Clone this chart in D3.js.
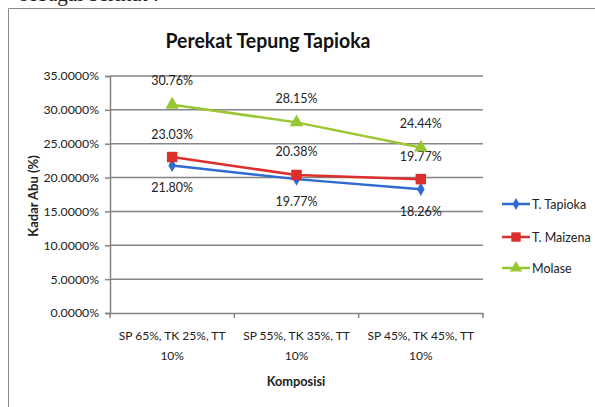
<!DOCTYPE html>
<html><head><meta charset="utf-8">
<script src="https://cdn.jsdelivr.net/npm/d3@7"></script>
<style>body{margin:0;background:#fff;}svg{display:block;}</style>
</head><body>
<script>
const categories = [["SP 65%, TK 25%, TT","10%"],["SP 55%, TK 35%, TT","10%"],["SP 45%, TK 45%, TT","10%"]];
const seriesNames = ["T. Tapioka","T. Maizena","Molase"];
const tapioka = [21.80, 19.77, 18.26];
const maizena = [23.03, 20.38, 19.77];
const molase = [30.76, 28.15, 24.44];
const yTicks = [0,5,10,15,20,25,30,35];
const title = "Perekat Tepung Tapioka";
const yTitle = "Kadar Abu (%)";
const xTitle = "Komposisi";

const W=595,H=407;
const font="Lato, 'Open Sans', sans-serif";
const svg=d3.select("body").append("svg").attr("width",W).attr("height",H);

// document fragment + frame
svg.append("text").attr("x",20).attr("y",1).attr("font-family","'Liberation Serif',serif").attr("font-size",21).attr("fill","#222").text("sebagai berikut :");
svg.append("path").attr("d","M8.5,408 V8.5 H596").attr("fill","none").attr("stroke","#8a8a8a").attr("stroke-width",1);

const x=d3.scaleBand().domain(d3.range(categories.length)).range([110,483]);
const y=d3.scaleLinear().domain([0,35]).range([313,76]);

// gridlines
svg.append("g").selectAll("line").data(yTicks.filter(d=>d>0)).join("line")
 .attr("x1",110).attr("x2",483).attr("y1",d=>y(d)).attr("y2",d=>y(d))
 .attr("stroke","#858585").attr("stroke-width",1.5);

const yAxis=svg.append("g").attr("transform","translate(110,0)")
 .call(d3.axisLeft(y).tickValues(yTicks).tickSize(5).tickPadding(6).tickFormat(d=>d.toFixed(4)+"%"));
const xAxis=svg.append("g").attr("transform","translate(0,313)")
 .call(d3.axisBottom(x).tickSize(0).tickFormat(""));
[yAxis,xAxis].forEach(a=>{a.select(".domain").attr("stroke","#858585").attr("stroke-width",1.5);
 a.selectAll(".tick line").attr("stroke","#858585").attr("stroke-width",1.5);});
yAxis.selectAll("text").attr("font-family",font).attr("font-size",12.3).attr("fill","#222");
// category ticks at boundaries
svg.append("g").selectAll("line").data(d3.range(categories.length+1)).join("line")
 .attr("x1",i=>i<categories.length?x(i):x.range()[1]).attr("x2",i=>i<categories.length?x(i):x.range()[1])
 .attr("y1",313).attr("y2",318).attr("stroke","#858585").attr("stroke-width",1.5);

// category labels
const cl=svg.append("g").selectAll("text").data(categories).join("text")
 .attr("font-family",font).attr("font-size",12).attr("fill","#222").attr("text-anchor","middle");
cl.each(function(d,i){const t=d3.select(this);
 d.forEach((ln,j)=>t.append("tspan").attr("x",x(i)+x.bandwidth()/2).attr("y",340+j*20).text(ln));});

svg.append("text").attr("x",296).attr("y",386).attr("text-anchor","middle").attr("font-family",font)
 .attr("font-weight","bold").attr("font-size",12.8).attr("fill","#222").text(xTitle);
svg.append("text").attr("transform","translate(38,196) rotate(-90)").attr("text-anchor","middle").attr("font-family",font)
 .attr("font-weight","bold").attr("font-size",13).attr("fill","#222").text(yTitle);
svg.append("text").attr("x",268).attr("y",48).attr("text-anchor","middle").attr("font-family",font)
 .attr("font-weight","bold").attr("font-size",21).attr("fill","#111").attr("textLength",205).attr("lengthAdjust","spacingAndGlyphs").text(title);

const colors=["#2F6BD0","#DC2E2B","#99C633"];
const data=[tapioka,maizena,molase];
const labelOffset=[22,-23,-24];
const cx=i=>x(i)+x.bandwidth()/2;
const line=d3.line().x((d,i)=>cx(i)).y(d=>y(d));
const sym=[d3.symbolDiamond,d3.symbolSquare,d3.symbolTriangle];
const symSize=[50,110,80];
data.forEach((vals,s)=>{
 svg.append("path").datum(vals).attr("d",line).attr("fill","none").attr("stroke",colors[s]).attr("stroke-width",2.5);
 svg.append("g").selectAll("path").data(vals).join("path")
  .attr("transform",(d,i)=>`translate(${cx(i)},${y(d)})`)
  .attr("d",d3.symbol().type(sym[s]).size(symSize[s])).attr("fill",colors[s]);
 svg.append("g").selectAll("text").data(vals).join("text")
  .attr("x",(d,i)=>cx(i)).attr("y",d=>y(d)+labelOffset[s]+4.5).attr("text-anchor","middle")
  .attr("font-family",font).attr("font-size",12.5).attr("fill","#222").text(d=>d.toFixed(2)+"%");
});

// legend
const lg=svg.append("g");
seriesNames.forEach((n,s)=>{
 const ly=[204,237,268][s];
 lg.append("line").attr("x1",502).attr("x2",530).attr("y1",ly).attr("y2",ly).attr("stroke",colors[s]).attr("stroke-width",2.5);
 lg.append("path").attr("transform",`translate(516,${ly})`).attr("d",d3.symbol().type(sym[s]).size(symSize[s]*0.8)).attr("fill",colors[s]);
 lg.append("text").attr("x",532).attr("y",ly+4.5).attr("font-family",font).attr("font-size",12.5).attr("fill","#222").text(n);
});
</script>
</body></html>
